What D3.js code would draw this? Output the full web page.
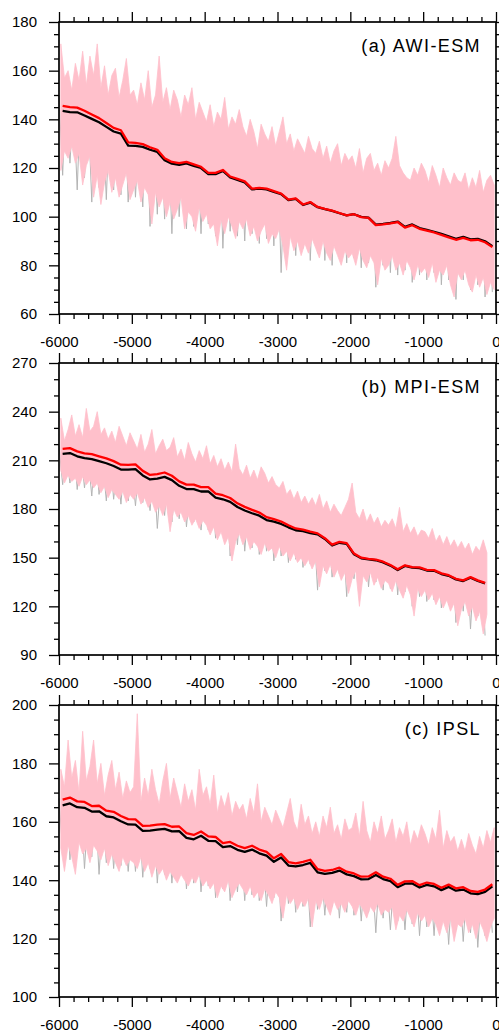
<!DOCTYPE html>
<html>
<head>
<meta charset="utf-8">
<script src="https://cdn.jsdelivr.net/npm/d3@7"></script>
<style>
  body { margin: 0; background: #fff; }
  svg { display: block; }
  text { font-family: "Liberation Sans", Arial, Helvetica, sans-serif; }
</style>
</head>
<body>
<svg width="499" height="1033"></svg>
<script>
// ---- panel titles
var titles = ["(a) AWI-ESM", "(b) MPI-ESM", "(c) IPSL"];

// ---- x axis (years)
var xTicks = [-6000, -5000, -4000, -3000, -2000, -1000, 0];

// ---- (a) AWI-ESM
// pink run: upper / lower values every 50 yr from -5975
var awiPinkHi = [
  171, 157, 160, 152, 163, 156, 168, 154, 166, 158,
  171, 153, 162, 150, 158, 161, 149, 156, 165, 150,
  152, 146, 155, 148, 160, 145, 150, 166, 147, 153,
  144, 152, 148, 141, 150, 146, 153, 140, 147, 143,
  139, 146, 137, 143, 140, 149, 136, 141, 138, 144,
  137, 133, 140, 135, 128, 138, 134, 131, 137, 129,
  135, 141, 130, 134, 127, 132, 129, 126, 133, 128,
  126, 131, 124, 129, 122, 127, 130, 121, 126, 123,
  125, 120, 128, 118, 124, 126, 119, 122, 117, 123,
  120, 124, 133, 121, 118, 116, 115, 120, 117, 122,
  119, 114, 121, 117, 112, 120, 116, 113, 118, 115,
  114, 118, 111, 116, 112, 119, 110, 115, 117, 113
];
var awiPinkLo = [
  119, 127, 124, 129, 122, 126, 113, 121, 125, 108,
  117, 105, 114, 119, 110, 116, 108, 113, 118, 107,
  111, 115, 106, 112, 109, 97, 110, 104, 108, 100,
  106, 99, 103, 108, 95, 102, 100, 94, 104, 98,
  101, 95, 97, 88, 99, 93, 100, 96, 91, 98,
  95, 99, 92, 96, 90, 94, 97, 89, 93, 91,
  95, 88, 78, 92, 86, 90, 84, 89, 85, 91,
  87, 83, 90, 85, 82, 88, 84, 80, 86, 83,
  85, 80, 87, 82, 79, 84, 81, 72, 83, 78,
  80, 84, 78, 81, 76, 82, 79, 74, 80, 77,
  79, 75, 81, 73, 78, 76, 80, 72, 67, 77,
  74, 78, 72, 69, 76, 71, 75, 68, 73, 70
];
// grey run: upper values at -6000,-5900,... and lower values 50 yr later
var awiGreyHi = [
  150, 156, 147, 153, 145, 151, 144, 149, 142, 147,
  143, 139, 146, 137, 142, 135, 140, 133, 138, 131,
  134, 129, 135, 127, 132, 126, 130, 124, 129, 123,
  127, 121, 126, 119, 124, 118, 122, 116, 121, 115,
  119, 114, 118, 112, 117, 111, 115, 110, 114, 109,
  113, 108, 112, 106, 111, 105, 109, 104, 108, 103
];
var awiGreyLo = [
  117, 122, 111, 116, 106, 112, 107, 111, 109, 106,
  108, 104, 96, 101, 99, 93, 100, 95, 96, 93,
  97, 92, 87, 94, 92, 90, 93, 89, 91, 88,
  77, 88, 84, 87, 82, 85, 82, 80, 84, 81,
  83, 79, 81, 71, 80, 77, 76, 78, 73, 76,
  74, 77, 72, 74, 66, 74, 70, 72, 67, 69
];
// smoothed curves, every 100 yr from -5950
var awiRed = [
  145.5, 145, 144.8, 143.5, 142, 140.5, 138.5, 136.5, 135.5, 130.5,
  130.3, 129.8, 128.5, 127.5, 124, 122.5, 122, 122.5, 121.5, 120.5,
  118, 118, 119.2, 116.5, 115.5, 114.5, 111.5, 111.8, 111.5, 110.5,
  109.5, 107, 107.5, 105, 106, 104, 103.2, 102.5, 101.5, 100.5,
  101, 99.8, 99.5, 96.5, 96.8, 97.2, 97.8, 95.5, 96.5, 95,
  94.3, 93.5, 92.5, 91.5, 90.5, 91.3, 90.3, 90.5, 89.5, 87.5
];
var awiBlack = [
  143.5, 143, 142.9, 141.6, 140.2, 138.8, 136.9, 135, 134.1, 129.2,
  129.1, 128.7, 127.5, 126.6, 123.2, 121.8, 121.3, 121.9, 120.9, 120,
  117.5, 117.5, 118.8, 116.1, 115.1, 114.1, 111.2, 111.5, 111.2, 110.2,
  109.3, 106.8, 107.3, 104.8, 105.8, 103.9, 103.1, 102.4, 101.4, 100.5,
  101, 99.9, 99.6, 96.7, 97, 97.4, 98, 95.8, 96.8, 95.3,
  94.6, 93.8, 92.9, 91.9, 90.9, 91.7, 90.7, 90.9, 89.9, 87.9
];
var awiYTicks = [60, 80, 100, 120, 140, 160, 180];

// ---- (b) MPI-ESM
var mpiPinkHi = [
  236, 222, 229, 238, 225, 232, 224, 242, 228, 231,
  240, 226, 230, 223, 228, 221, 231, 225, 219, 227,
  222, 217, 226, 215, 220, 229, 214, 219, 223, 216,
  218, 224, 212, 217, 210, 221, 214, 209, 216, 211,
  219, 208, 213, 206, 211, 204, 209, 203, 220, 205,
  201, 207, 199, 204, 198, 206, 202, 196, 200, 195,
  193, 197, 189, 192, 186, 191, 184, 188, 183, 187,
  182, 189, 180, 185, 178, 183, 179, 176, 181, 186,
  196, 178, 174, 180, 172, 177, 171, 175, 169, 173,
  170, 174, 168, 181, 166, 171, 165, 169, 163, 167,
  166, 162, 168, 160, 164, 158, 163, 157, 161, 156,
  160, 155, 159, 152, 157, 154, 161, 153
];
var mpiPinkLo = [
  204, 196, 201, 197, 199, 194, 200, 195, 198, 193,
  196, 190, 194, 187, 192, 189, 186, 191, 184, 189,
  186, 190, 183, 187, 181, 185, 178, 182, 176, 183,
  166, 180, 175, 178, 172, 176, 170, 174, 168, 173,
  170, 164, 169, 161, 166, 158, 163, 148, 160, 165,
  158, 163, 155, 160, 157, 152, 159, 154, 156, 150,
  157, 151, 154, 148, 153, 147, 150, 145, 149, 143,
  148, 132, 145, 140, 146, 138, 143, 136, 141, 128,
  137, 142, 120, 139, 135, 141, 133, 138, 131, 136,
  134, 129, 136, 130, 125, 133, 127, 114, 131, 126,
  130, 124, 128, 121, 126, 119, 124, 117, 122, 108,
  118, 123, 114, 120, 111, 117, 103, 115
];
var mpiGreyHi = [
  219, 214, 221, 216, 212, 218, 209, 214, 207, 211,
  204, 208, 201, 206, 199, 203, 196, 200, 194, 197,
  192, 195, 188, 191, 186, 189, 183, 186, 180, 183,
  178, 176, 180, 173, 176, 170, 173, 167, 170, 165,
  168, 162, 165, 160, 163, 157, 160, 155, 158, 153,
  156, 151, 154, 149, 152, 147, 150, 145, 148
];
var mpiGreyLo = [
  195, 196, 192, 193, 188, 189, 185, 186, 183, 185,
  182, 184, 179, 168, 176, 172, 174, 169, 172, 167,
  167, 162, 164, 151, 158, 154, 156, 152, 154, 148,
  151, 147, 149, 144, 146, 130, 142, 138, 140, 126,
  137, 134, 132, 135, 130, 131, 127, 129, 120, 126,
  123, 124, 119, 121, 110, 117, 106, 114, 102
];
var mpiRed = [
  217, 217.5, 215.5, 214.3, 213.8, 212.5, 211.2, 209.5, 207.3, 207.2,
  207.5, 203.5, 201, 201.5, 202.5, 200.5, 197, 195, 195, 193.5,
  193.5, 189.5, 188.5, 186.8, 183.5, 181.3, 179.5, 177.8, 175, 173.8,
  172.3, 170, 168, 167.3, 166, 165, 162, 158, 159.7, 159,
  152.5, 150, 149.3, 148.8, 147.5, 145.5, 142.8, 145.3, 144.2, 144,
  142.5, 142.3, 140.3, 139.2, 137, 136, 138, 136, 134.5
];
var mpiBlack = [
  214, 214.5, 212.5, 211.3, 210.8, 209.5, 208.2, 206.5, 204.3, 204.3,
  204.6, 200.7, 198.2, 198.7, 199.8, 197.8, 194.3, 192.3, 192.3, 190.8,
  190.9, 187, 186, 184.4, 181.2, 179.1, 177.4, 175.9, 173.2, 172.2,
  170.8, 168.7, 166.9, 166.3, 165.2, 164.4, 161.5, 157.5, 159.2, 158.5,
  152.1, 149.6, 148.9, 148.4, 147.1, 145.1, 142.4, 144.9, 143.8, 143.6,
  142.1, 141.9, 139.9, 138.8, 136.6, 135.6, 137.6, 135.6, 134.2
];
var mpiYTicks = [90, 120, 150, 180, 210, 240, 270];

// ---- (c) IPSL
var ipslPinkHi = [
  178, 172, 188, 175, 181, 170, 191, 174, 179, 188,
  173, 180, 169, 176, 181, 171, 177, 168, 174, 170,
  172, 197, 167, 175, 169, 178, 171, 166, 174, 180,
  168, 175, 170, 165, 173, 167, 171, 164, 178, 169,
  172, 166, 176, 163, 169, 165, 170, 162, 167, 164,
  166, 161, 168, 163, 173, 160, 165, 162, 159, 164,
  161, 158, 163, 168, 160, 157, 166, 159, 162, 156,
  160, 155, 162, 158, 165, 156, 159, 154, 161, 157,
  158, 163, 155, 167, 157, 153, 160, 156, 162, 154,
  157, 161, 153, 158, 155, 160, 152, 157, 154, 159,
  156, 152, 158, 154, 164, 151, 157, 153, 155, 150,
  154, 150, 156, 152, 149, 155, 151, 157, 153, 158
];
var ipslPinkLo = [
  151, 143, 152, 148, 142, 153, 149, 151, 146, 152,
  150, 147, 151, 145, 149, 146, 143, 148, 145, 147,
  146, 144, 148, 143, 146, 141, 145, 142, 144, 140,
  143, 141, 139, 142, 140, 138, 141, 139, 142, 138,
  140, 137, 139, 134, 138, 136, 140, 134, 137, 139,
  137, 135, 138, 134, 136, 133, 137, 135, 132, 136,
  134, 127, 135, 132, 134, 130, 133, 131, 134, 124,
  133, 130, 134, 131, 128, 133, 130, 132, 129, 133,
  131, 128, 132, 130, 127, 131, 129, 132, 128, 130,
  129, 131, 123, 128, 126, 130, 127, 124, 129, 126,
  128, 124, 127, 125, 121, 126, 122, 127, 119, 125,
  124, 127, 122, 125, 120, 126, 123, 119, 124, 127
];
var ipslGreyHi = [
  168, 170, 165, 167, 164, 166, 162, 164, 161, 160,
  159, 162, 158, 160, 157, 159, 156, 157, 155, 156,
  154, 155, 153, 154, 152, 151, 150, 152, 149, 150,
  148, 149, 147, 148, 146, 147, 145, 146, 144, 145,
  144, 143, 144, 142, 143, 141, 142, 140, 141, 142,
  140, 139, 141, 138, 140, 139, 138, 140, 137, 139
];
var ipslGreyLo = [
  150, 147, 152, 144, 148, 142, 146, 144, 145, 143,
  143, 141, 144, 139, 142, 139, 141, 137, 139, 136,
  138, 134, 137, 133, 136, 133, 135, 133, 131, 134,
  126, 132, 129, 131, 124, 130, 128, 131, 127, 129,
  128, 126, 129, 122, 127, 123, 126, 123, 125, 121,
  124, 121, 125, 118, 123, 119, 122, 117, 121, 122
];
var ipslRed = [
  167.6, 168.3, 167, 166.8, 165.4, 165.5, 163.8, 163.4, 162, 160.9,
  160.8, 158.6, 158.7, 159, 159.2, 158.3, 158.4, 156.1, 155.5, 156.7,
  155, 154.8, 152.7, 153.1, 151.8, 151, 151.8, 150.5, 149.7, 147.5,
  149, 146.2, 145.8, 146.3, 147, 143.8, 143.2, 143.5, 144.3, 142.9,
  142.3, 141.2, 141.3, 142.7, 141.2, 140.5, 138.4, 139.6, 139.7, 138.3,
  139.2, 138.7, 137.4, 138.5, 137.2, 137.6, 136.3, 136, 136.8, 138.6
];
var ipslBlack = [
  165.6, 166.3, 165, 164.8, 163.5, 163.6, 161.9, 161.5, 160.2, 159.1,
  159, 156.9, 157, 157.3, 157.6, 156.7, 156.8, 154.5, 154, 155.2,
  153.5, 153.4, 151.3, 151.7, 150.4, 149.7, 150.5, 149.2, 148.4, 146.3,
  147.8, 145, 144.7, 145.2, 145.9, 142.7, 142.2, 142.5, 143.3, 142,
  141.4, 140.3, 140.4, 141.8, 140.4, 139.7, 137.6, 138.8, 138.9, 137.5,
  138.4, 137.9, 136.6, 137.7, 136.4, 136.8, 135.5, 135.2, 136, 137.9
];
var ipslYTicks = [100, 120, 140, 160, 180, 200];

var panels = [
  { title: titles[0], top: 22, yDomain: [60, 180], yTicks: awiYTicks, yMinor: 5,
    pinkHi: awiPinkHi, pinkLo: awiPinkLo, greyHi: awiGreyHi, greyLo: awiGreyLo,
    red: awiRed, black: awiBlack },
  { title: titles[1], top: 363, yDomain: [90, 270], yTicks: mpiYTicks, yMinor: 10,
    pinkHi: mpiPinkHi, pinkLo: mpiPinkLo, greyHi: mpiGreyHi, greyLo: mpiGreyLo,
    red: mpiRed, black: mpiBlack },
  { title: titles[2], top: 705, yDomain: [100, 200], yTicks: ipslYTicks, yMinor: 5,
    pinkHi: ipslPinkHi, pinkLo: ipslPinkLo, greyHi: ipslGreyHi, greyLo: ipslGreyLo,
    red: ipslRed, black: ipslBlack }
];

var svg = d3.select("svg");
var left = 59, right = 496, plotH = 292;

var xScale = d3.scaleLinear().domain([-6000, 0]).range([left, right]);
var xMinor = d3.range(-6000, 1, 200).filter(function (v) { return xTicks.indexOf(v) < 0; });

// rows of {year, hi, lo} for the pink band
var band = function (hi, lo, start, step) {
  return hi.map(function (h, i) {
    return { year: start + i * step, hi: h, lo: lo[i] };
  });
};

// zigzag points for the grey run
var zigzag = function (hi, lo, start, step) {
  var pts = [];
  hi.forEach(function (h, i) {
    pts.push([start + i * step, h]);
    pts.push([start + i * step + step / 2, lo[i]]);
  });
  return pts;
};

var render = function (p) {
  var yScale = d3.scaleLinear().domain(p.yDomain).range([p.top + plotH, p.top]);
  var yMinor = d3.range(p.yDomain[0], p.yDomain[1] + 0.1, p.yMinor)
    .filter(function (v) { return p.yTicks.indexOf(v) < 0; });

  var g = svg.append("g");

  g.append("path")
    .datum(zigzag(p.greyHi, p.greyLo, -6000, 100))
    .attr("d", d3.line()
      .x(function (d) { return xScale(d[0]); })
      .y(function (d) { return yScale(d[1]); }))
    .attr("fill", "none")
    .attr("stroke", "#b4b4b4")
    .attr("stroke-width", 1);

  var area = d3.area()
    .x(function (d) { return xScale(d.year); })
    .y0(function (d) { return yScale(d.lo); })
    .y1(function (d) { return yScale(d.hi); });

  g.append("path")
    .datum(band(p.pinkHi, p.pinkLo, -5975, 50))
    .attr("d", area)
    .attr("fill", "#ffc0cb")
    .attr("stroke", "#ffc0cb")
    .attr("stroke-width", 0.8);

  var line = d3.line()
    .x(function (d, i) { return xScale(-5950 + i * 100); })
    .y(function (d) { return yScale(d); });

  var smooth = function (vals, color) {
    g.append("path")
      .datum(vals)
      .attr("d", line)
      .attr("fill", "none")
      .attr("stroke", color)
      .attr("stroke-width", 2.3)
      .attr("stroke-linejoin", "round");
  };
  smooth(p.black, "#000");
  smooth(p.red, "#ff0000");

  // axes: major + minor ticks on all four sides, all pointing out
  var noLabel = function () { return ""; };
  var plain = function (d) { return String(d); };
  var addAxis = function (axis, tx, ty) {
    var a = g.append("g")
      .attr("transform", "translate(" + tx + "," + ty + ")")
      .call(axis);
    a.select(".domain").remove();
    a.selectAll("line").attr("stroke", "#000").attr("stroke-width", 1.3);
    a.selectAll("text").attr("font-size", 15).attr("fill", "#000")
      .style("font-family", "'Liberation Sans', Arial, sans-serif");
    return a;
  };

  var yB = p.top + plotH;
  addAxis(d3.axisBottom(xScale).tickValues(xTicks).tickSize(10).tickPadding(12)
    .tickFormat(plain), 0, yB);
  addAxis(d3.axisBottom(xScale).tickValues(xMinor).tickSize(5).tickFormat(noLabel), 0, yB);
  addAxis(d3.axisTop(xScale).tickValues(xTicks).tickSize(10).tickFormat(noLabel), 0, p.top);
  addAxis(d3.axisTop(xScale).tickValues(xMinor).tickSize(5).tickFormat(noLabel), 0, p.top);
  addAxis(d3.axisLeft(yScale).tickValues(p.yTicks).tickSize(10).tickPadding(12)
    .tickFormat(plain), left, 0);
  addAxis(d3.axisLeft(yScale).tickValues(yMinor).tickSize(5).tickFormat(noLabel), left, 0);
  addAxis(d3.axisRight(yScale).tickValues(p.yTicks).tickSize(10).tickFormat(noLabel), right, 0);
  addAxis(d3.axisRight(yScale).tickValues(yMinor).tickSize(5).tickFormat(noLabel), right, 0);

  g.append("rect")
    .attr("x", left).attr("y", p.top)
    .attr("width", right - left).attr("height", plotH)
    .attr("fill", "none").attr("stroke", "#000").attr("stroke-width", 1.7);

  g.append("text")
    .attr("x", 481).attr("y", p.top + 30)
    .attr("text-anchor", "end")
    .attr("font-size", 18)
    .attr("letter-spacing", 1.4)
    .text(p.title);
};

panels.forEach(render);
</script>
</body>
</html>
